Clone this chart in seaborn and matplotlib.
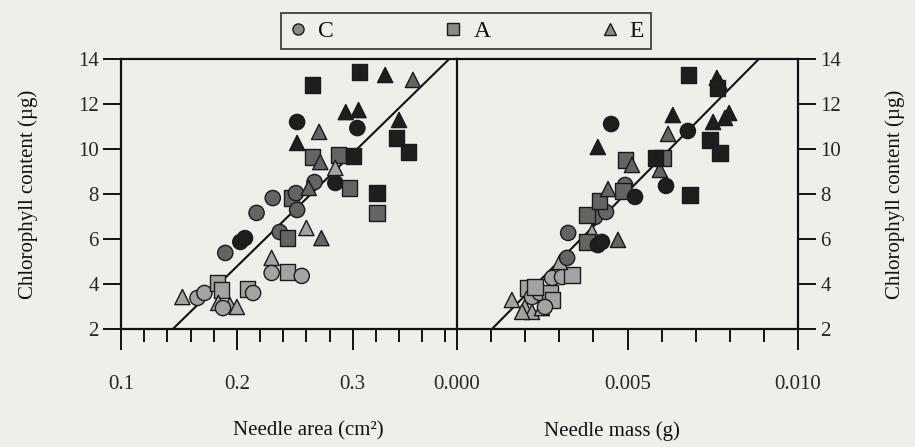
import matplotlib
matplotlib.use("Agg")
import matplotlib.pyplot as plt
from matplotlib.lines import Line2D
from matplotlib.ticker import MultipleLocator
import numpy as np
import pandas as pd
import seaborn as sns

# ---------------- data ----------------
# Left panel: needle area (cm2) vs chlorophyll (ug)
area_x = [0.153, 0.166, 0.172, 0.183, 0.187, 0.184, 0.194, 0.200, 0.188, 0.209, 0.214,
          0.190, 0.203, 0.207, 0.217, 0.231, 0.237, 0.244, 0.230, 0.230, 0.244, 0.256,
          0.247, 0.251, 0.252, 0.267, 0.262, 0.285, 0.297, 0.321, 0.321, 0.260, 0.273,
          0.265, 0.272, 0.288, 0.301, 0.285, 0.252, 0.304, 0.271, 0.252, 0.294, 0.305,
          0.340, 0.338, 0.348, 0.265, 0.306, 0.328, 0.352]
area_y = [3.42, 3.38, 3.60, 4.04, 3.73, 3.16, 3.07, 2.98, 2.93, 3.78, 3.60,
          5.38, 5.87, 6.04, 7.16, 7.82, 6.31, 6.04, 5.16, 4.49, 4.53, 4.36,
          7.82, 8.04, 7.29, 8.53, 8.27, 8.49, 8.27, 8.04, 7.16, 6.49, 6.04,
          9.64, 9.42, 9.73, 9.69, 9.16, 11.20, 10.93, 10.76, 10.27, 11.64, 11.73,
          11.29, 10.49, 9.87, 12.84, 13.42, 13.29, 13.07]
area_clone = ["E", "C", "C", "A", "A", "E", "E", "E", "C", "A", "C",
              "C", "C", "C", "C", "C", "C", "A", "E", "C", "A", "C",
              "A", "C", "C", "C", "E", "C", "A", "A", "A", "E", "E",
              "A", "E", "A", "A", "E", "C", "C", "E", "E", "E", "E",
              "E", "A", "A", "A", "A", "E", "E"]
area_shade = ["light", "light", "light", "light", "light", "light", "light", "light", "light", "light", "light",
              "mid", "dark", "dark", "mid", "mid", "mid", "mid", "light", "light", "light", "light",
              "mid", "mid", "mid", "mid", "mid", "dark", "mid", "dark", "mid", "light", "mid",
              "mid", "mid", "mid", "dark", "light", "dark", "dark", "mid", "dark", "dark", "dark",
              "dark", "dark", "dark", "dark", "dark", "dark", "mid"]

# Right panel: needle mass (g) vs chlorophyll (ug)
mass_x = [0.00161, 0.00208, 0.00199, 0.00220, 0.00249, 0.00220, 0.00243, 0.00273, 0.00279,
          0.00258, 0.00191, 0.00279, 0.00308, 0.00337, 0.00229, 0.00302, 0.00396,
          0.00323, 0.00326, 0.00405, 0.00437, 0.00493, 0.00381, 0.00381, 0.00419, 0.00487,
          0.00493, 0.00604, 0.00472, 0.00443, 0.00513, 0.00595, 0.00619, 0.00771,
          0.00413, 0.00425, 0.00522, 0.00452, 0.00677, 0.00613, 0.00413, 0.00633, 0.00751,
          0.00786, 0.00798, 0.00762, 0.00680, 0.00765, 0.00742, 0.00771, 0.00581, 0.00683]
mass_y = [3.29, 3.82, 2.98, 2.76, 2.93, 3.42, 3.60, 3.60, 3.29,
          2.98, 2.76, 4.27, 4.31, 4.40, 3.87, 4.98, 6.31,
          5.16, 6.27, 6.98, 7.20, 8.40, 5.87, 7.07, 7.69, 8.13,
          9.51, 9.60, 5.96, 8.22, 9.29, 9.07, 10.67, 12.93,
          5.73, 5.87, 7.87, 11.11, 10.80, 8.36, 10.09, 11.51, 11.20,
          11.38, 11.60, 13.16, 13.29, 12.71, 10.40, 9.82, 9.60, 7.96]
mass_clone = ["E", "A", "E", "E", "E", "C", "C", "A", "A",
              "C", "E", "C", "C", "A", "A", "E", "E",
              "C", "C", "C", "C", "C", "A", "A", "A", "A",
              "A", "A", "E", "E", "E", "E", "E", "E",
              "C", "C", "C", "C", "C", "C", "E", "E", "E",
              "E", "E", "E", "A", "A", "A", "A", "A", "A"]
mass_shade = ["light"] * 17 + ["mid"] * 17 + ["dark"] * 18

# Regression lines: (slope, intercept)
area_line = (50.3, -5.28)
mass_line = (1533.0, 0.43)

clones = ["C", "A", "E"]

# ---------------- style ----------------
sns.set_theme(style="white")
plt.rcParams["font.family"] = ["Liberation Serif", "DejaVu Serif"]
bg = "#efefea"
palette = {"light": "#a3a3a3", "mid": "#646464", "dark": "#1e1e1e"}
markers = {"C": "o", "A": "s", "E": "^"}
edge = "#1a1a1a"

df_area = pd.DataFrame({"x": area_x, "y": area_y, "clone": area_clone, "shade": area_shade})
df_mass = pd.DataFrame({"x": mass_x, "y": mass_y, "clone": mass_clone, "shade": mass_shade})

W, H = 915, 447
fig = plt.figure(figsize=(W / 100, H / 100), dpi=100, facecolor=bg)

def fx(px):
    return px / W

def fy(py):
    return 1 - py / H

y_top, y_bot = 59, 329
ax1 = fig.add_axes([fx(121), fy(y_bot), fx(457 - 121), (y_bot - y_top) / H])
ax2 = fig.add_axes([fx(457), fy(y_bot), fx(798 - 457), (y_bot - y_top) / H])

for ax, df, xlim, line in ((ax1, df_area, (0.1, 0.39), area_line),
                           (ax2, df_mass, (0.0, 0.010), mass_line)):
    ax.set_facecolor(bg)
    sns.scatterplot(data=df, x="x", y="y", hue="shade", style="clone",
                    palette=palette, markers=markers, s=120,
                    edgecolor=edge, linewidth=1.0, legend=False, ax=ax, zorder=3)
    slope, icpt = line
    x0 = (2 - icpt) / slope
    x1 = (14 - icpt) / slope
    xs = np.array([x0, x1])
    ax.plot(xs, slope * xs + icpt, color="#111111", lw=1.5, zorder=2)
    ax.set_xlim(*xlim)
    ax.set_ylim(2, 14)
    ax.set_xlabel("")
    ax.set_ylabel("")
    for sp in ax.spines.values():
        sp.set_color("#111111")
        sp.set_linewidth(1.6)
        sp.set_visible(True)

ax1.set_xticks([0.1, 0.2, 0.3])
ax1.xaxis.set_minor_locator(MultipleLocator(0.02))
ax1.set_xticklabels(["0.1", "0.2", "0.3"])
ax2.set_xticks([0.0, 0.005, 0.010])
ax2.xaxis.set_minor_locator(MultipleLocator(0.001))
ax2.set_xticklabels(["0.000", "0.005", "0.010"])

yt = [2, 4, 6, 8, 10, 12, 14]
for ax in (ax1, ax2):
    ax.set_yticks(yt)
    ax.set_yticklabels([str(v) for v in yt])
    ax.tick_params(axis="x", which="major", direction="out", length=15, width=1.4,
                   color="#111111", labelsize=15, pad=18, bottom=True)
    ax.tick_params(axis="x", which="minor", direction="out", length=9, width=1.4,
                   color="#111111", bottom=True)
    ax.tick_params(axis="y", direction="out", length=13, width=1.4, color="#111111",
                   labelsize=15, pad=3)

ax1.tick_params(axis="y", left=True, right=False, labelleft=True, labelright=False)
ax2.tick_params(axis="y", left=False, right=True, labelleft=False, labelright=True)
ax1.spines["right"].set_visible(False)

lab_kw = dict(fontsize=15, color="#111111")
fig.text(fx(28), fy(194), "Chlorophyll content (µg)", rotation=90,
         ha="center", va="center", **lab_kw)
fig.text(fx(895), fy(194), "Chlorophyll content (µg)", rotation=90,
         ha="center", va="center", **lab_kw)
fig.text(fx(308), fy(431), "Needle area (cm²)", ha="center", va="center", **lab_kw)
fig.text(fx(612), fy(431), "Needle mass (g)", ha="center", va="center", **lab_kw)

handles = [Line2D([], [], linestyle="none", marker=markers[c], markersize=8,
                  markerfacecolor="#8a8a8a", markeredgecolor=edge, markeredgewidth=1.0,
                  label=c) for c in clones]
leg = fig.legend(handles=handles, loc="center", bbox_to_anchor=(fx(466), fy(31)),
                 ncol=3, frameon=True, fancybox=False, fontsize=17,
                 handlelength=0.9, handletextpad=0.4, columnspacing=4.6,
                 borderpad=0.3, edgecolor="#222222", facecolor=bg)
leg.get_frame().set_linewidth(1.4)
for t in leg.get_texts():
    t.set_color("#111111")

fig.savefig("out.png", dpi=100, facecolor=bg)
